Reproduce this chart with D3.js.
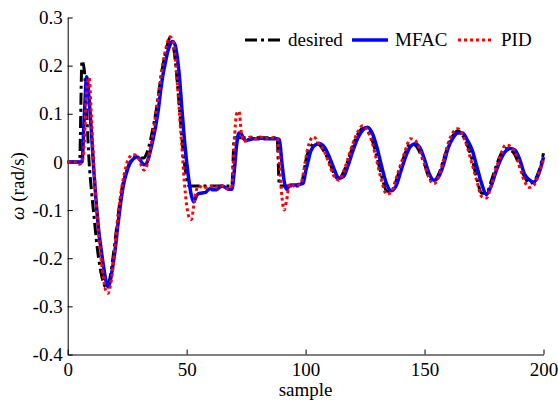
<!DOCTYPE html>
<html><head><meta charset="utf-8">
<script src="https://cdn.jsdelivr.net/npm/d3@7/dist/d3.min.js"></script>
<style>
html,body{margin:0;padding:0;background:#fff;}
svg text{font-family:"Liberation Serif","Times New Roman",serif !important;}
</style></head>
<body><svg id="c" width="558" height="401"></svg>
<script>
const samples = [0,1,2,3,4,5,6,7,8,9,10,11,12,13,14,15,16,17,18,19,20,21,22,23,24,25,26,27,28,29,30,31,32,33,34,35,36,37,38,39,40,41,42,43,44,45,46,47,48,49,50,51,52,53,54,55,56,57,58,59,60,61,62,63,64,65,66,67,68,69,70,71,72,73,74,75,76,77,78,79,80,81,82,83,84,85,86,87,88,89,90,91,92,93,94,95,96,97,98,99,100,101,102,103,104,106,108,110,112,114,116,118,120,122,124,126,128,130,132,134,136,138,140,142,144,146,148,150,152,154,156,158,160,162,164,166,168,170,172,174,176,178,180,182,184,186,188,190,192,194,196,198,200];

const desired = [0,0,0,0,0,0,0.21,0.19,0.1,0.0,-0.06,-0.11,-0.16,-0.2,-0.23,-0.25,-0.26,-0.255,-0.235,-0.2,-0.16,-0.12,-0.08,-0.05,-0.03,-0.015,-0.003,0.005,0.01,0.01,0.01,0.008,0.008,0.015,0.03,0.05,0.075,0.1,0.135,0.17,0.2,0.225,0.245,0.258,0.25,0.22,0.17,0.11,0.05,0.0,-0.035,-0.05,-0.05,-0.05,-0.05,-0.05,-0.05,-0.05,-0.05,-0.05,-0.05,-0.05,-0.05,-0.05,-0.05,-0.05,-0.05,-0.05,-0.05,-0.05,0.05,0.05,0.05,0.05,0.05,0.05,0.05,0.05,0.05,0.05,0.05,0.05,0.05,0.05,0.05,0.05,0.05,0.05,0.05,-0.05,-0.05,-0.05,-0.05,-0.05,-0.05,-0.05,-0.05,-0.05,-0.05,-0.03,0.0,0.02,0.03,0.037,0.04,0.035,0.02,0.0,-0.025,-0.036,-0.02,0.005,0.035,0.058,0.07,0.065,0.045,0.01,-0.03,-0.06,-0.062,-0.04,-0.01,0.02,0.038,0.035,0.02,-0.005,-0.033,-0.04,-0.025,0.005,0.035,0.055,0.065,0.055,0.035,0.005,-0.035,-0.065,-0.065,-0.04,-0.01,0.015,0.028,0.025,0.015,-0.01,-0.03,-0.045,-0.04,-0.02,0.018];

const mfac = [0,0,0,0,0,0,0.0,0.1,0.177,0.13,0.06,-0.02,-0.085,-0.14,-0.18,-0.215,-0.245,-0.26,-0.245,-0.215,-0.18,-0.135,-0.095,-0.06,-0.035,-0.018,-0.005,0.003,0.008,0.01,0.008,0.0,-0.006,-0.004,0.008,0.028,0.05,0.075,0.105,0.145,0.18,0.205,0.228,0.243,0.25,0.245,0.22,0.175,0.11,0.05,0.0,-0.04,-0.07,-0.083,-0.072,-0.066,-0.065,-0.064,-0.063,-0.058,-0.055,-0.058,-0.058,-0.056,-0.052,-0.05,-0.052,-0.055,-0.057,-0.057,-0.02,0.035,0.06,0.058,0.048,0.044,0.046,0.047,0.048,0.048,0.048,0.049,0.049,0.048,0.048,0.048,0.048,0.048,0.048,0.046,0.0,-0.04,-0.057,-0.05,-0.048,-0.048,-0.048,-0.047,-0.046,-0.044,-0.02,0.0,0.02,0.03,0.035,0.038,0.03,0.01,-0.015,-0.034,-0.03,-0.005,0.025,0.05,0.066,0.072,0.06,0.03,-0.01,-0.045,-0.06,-0.05,-0.02,0.01,0.032,0.038,0.03,0.005,-0.025,-0.038,-0.03,-0.005,0.03,0.05,0.06,0.06,0.045,0.025,-0.01,-0.045,-0.068,-0.05,-0.02,0.005,0.022,0.028,0.025,0.005,-0.025,-0.037,-0.042,-0.025,0.01];

const pid = [0,0,0,0,0,-0.005,0.0,0.04,0.15,0.175,0.09,-0.01,-0.085,-0.15,-0.2,-0.24,-0.267,-0.273,-0.255,-0.22,-0.17,-0.12,-0.08,-0.045,-0.02,0.0,0.01,0.015,0.015,0.012,0.005,-0.008,-0.017,-0.012,0.01,0.035,0.065,0.1,0.135,0.17,0.205,0.23,0.25,0.26,0.255,0.225,0.17,0.1,0.03,-0.04,-0.09,-0.115,-0.12,-0.09,-0.06,-0.05,-0.052,-0.055,-0.053,-0.05,-0.05,-0.052,-0.054,-0.05,-0.048,-0.05,-0.053,-0.056,-0.055,-0.05,0.04,0.1,0.105,0.06,0.043,0.045,0.05,0.052,0.05,0.048,0.05,0.052,0.05,0.048,0.05,0.051,0.05,0.05,0.05,0.0,-0.07,-0.1,-0.08,-0.05,-0.045,-0.05,-0.05,-0.048,-0.045,-0.025,0.005,0.03,0.045,0.052,0.05,0.035,0.02,-0.005,-0.03,-0.038,-0.02,0.01,0.04,0.063,0.075,0.065,0.04,0.0,-0.04,-0.067,-0.063,-0.035,-0.005,0.025,0.048,0.045,0.025,-0.005,-0.035,-0.045,-0.03,0.005,0.04,0.062,0.069,0.055,0.03,-0.005,-0.04,-0.072,-0.075,-0.05,-0.015,0.015,0.035,0.033,0.02,-0.01,-0.04,-0.053,-0.048,-0.025,0.005];

const xTicks = [0,50,100,150,200];
const yTicks = [-0.4,-0.3,-0.2,-0.1,0,0.1,0.2,0.3];
const yTickLabels = ["-0.4","-0.3","-0.2","-0.1","0","0.1","0.2","0.3"];
const seriesNames = ["desired","MFAC","PID"];

const svg = d3.select("#c");
const x = d3.scaleLinear().domain([0,200]).range([67.7,543.5]);
const y = d3.scaleLinear().domain([-0.4,0.3]).range([354.5,17.5]);

const fs = "19px";
const ff = "'Liberation Serif','Times New Roman',serif";

const xAxis = d3.axisBottom(x).tickValues(xTicks).tickFormat(d3.format("d"))
  .tickSizeInner(-5).tickSizeOuter(0).tickPadding(8);
const yAxis = d3.axisLeft(y).tickValues(yTicks).tickFormat((d,i) => yTickLabels[i])
  .tickSizeInner(-5).tickSizeOuter(0).tickPadding(5);

const gx = svg.append("g").attr("transform","translate(0,354.5)").call(xAxis);
const gy = svg.append("g").attr("transform","translate(67.7,0)").call(yAxis);
[gx,gy].forEach(g=>{
  g.attr("font-family",ff).attr("font-size",19);
  g.selectAll("text").attr("fill","#000");
  g.selectAll("path,line").attr("stroke","#000").attr("stroke-width",1);
});

const styles = [
  {data: desired, color:"#000", width:3, dash:"12,4,3,4"},
  {data: mfac, color:"#0000ff", width:3.5, dash:null},
  {data: pid, color:"#ff0000", width:3, dash:"3,3"}
];

const line = d3.line().x(d=>x(d[0])).y(d=>y(d[1])).curve(d3.curveMonotoneX);
styles.forEach(s=>{
  svg.append("path")
    .datum(samples.map((t,i)=>[t,s.data[i]]))
    .attr("d",line)
    .attr("fill","none")
    .attr("stroke",s.color)
    .attr("stroke-width",s.width)
    .attr("stroke-dasharray",s.dash)
    .attr("stroke-linejoin","round");
});

// legend
const legX = [245,352,458];
const legY = 40;
styles.forEach((s,i)=>{
  svg.append("line").attr("x1",legX[i]).attr("x2",legX[i]+36).attr("y1",legY).attr("y2",legY)
    .attr("stroke",s.color).attr("stroke-width",s.width).attr("stroke-dasharray",s.dash);
  svg.append("text").attr("x",legX[i]+43).attr("y",legY+6).attr("font-family",ff).attr("font-size",19)
    .text(seriesNames[i]);
});

// axis labels
svg.append("text").attr("x",305.6).attr("y",396).attr("text-anchor","middle").attr("font-family",ff).attr("font-size",19).text("sample");
const yl = svg.append("text").attr("transform","translate(24,186) rotate(-90)").attr("text-anchor","middle").attr("font-family",ff).attr("font-size",19);
yl.append("tspan").style("font-style","italic").text("ω");
yl.append("tspan").text(" (rad/s)");
</script>
</body></html>
